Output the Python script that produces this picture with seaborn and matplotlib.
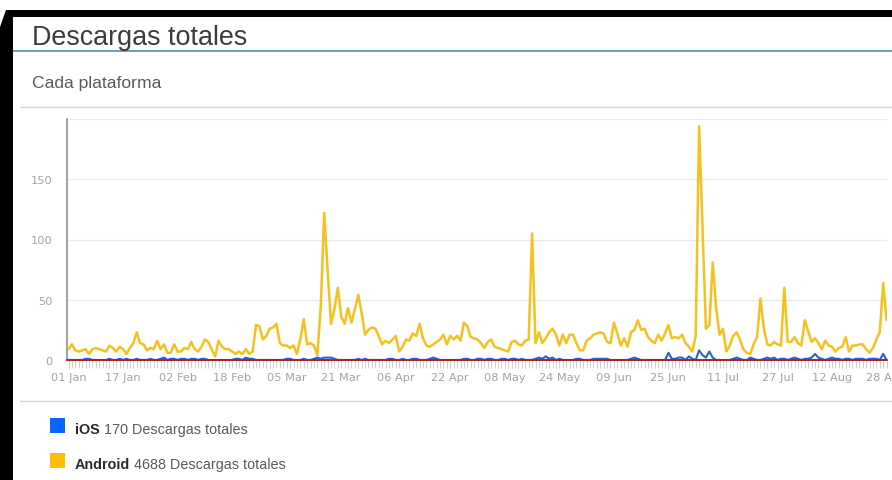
import matplotlib
matplotlib.use("Agg")
import matplotlib.pyplot as plt
import matplotlib.dates as mdates
from matplotlib.patches import Rectangle, Polygon
from matplotlib.lines import Line2D
import seaborn as sns
import pandas as pd
import numpy as np

# ---------------- data ----------------
start_date = "2016-01-01"
platforms = ["iOS", "Android"]
ios_total = 170
android_total = 4688

android = [
    9, 13, 8, 7, 8, 9, 5, 9, 10, 9,
    8, 7, 12, 10, 7, 11, 9, 5, 10, 14,
    23, 14, 13, 8, 10, 9, 16, 9, 13, 6,
    6, 13, 7, 7, 10, 9, 15, 9, 7, 11,
    17, 15, 9, 3, 16, 11, 9, 9, 7, 5,
    7, 5, 9, 5, 7, 29, 28, 17, 20, 26,
    27, 30, 14, 12, 12, 10, 12, 5, 17, 34,
    13, 14, 12, 4, 45, 122, 75, 30, 42, 60,
    36, 30, 43, 31, 42, 54, 39, 21, 25, 27,
    26, 20, 13, 16, 14, 17, 20, 7, 11, 17,
    16, 22, 20, 30, 18, 12, 11, 13, 15, 17,
    21, 13, 20, 17, 20, 16, 31, 28, 19, 18,
    17, 14, 10, 15, 17, 11, 10, 9, 8, 7,
    15, 16, 13, 12, 16, 17, 105, 14, 23, 14,
    18, 23, 26, 21, 12, 21, 14, 21, 21, 14,
    8, 8, 16, 18, 21, 22, 23, 22, 15, 14,
    31, 22, 12, 18, 11, 23, 25, 33, 25, 26,
    19, 16, 14, 21, 16, 22, 29, 18, 19, 18,
    21, 14, 11, 7, 20, 194, 110, 26, 29, 81,
    43, 21, 26, 7, 12, 20, 23, 17, 9, 6,
    5, 13, 19, 51, 26, 13, 12, 15, 13, 12,
    60, 15, 15, 19, 14, 12, 33, 24, 15, 18,
    14, 9, 16, 12, 11, 7, 10, 11, 19, 7,
    12, 12, 13, 13, 9, 6, 10, 17, 23, 64,
    33,
]

ios = [
    0, 0, 0, 0, 0, 1, 1, 0, 0, 0,
    0, 0, 1, 0, 0, 1, 0, 1, 0, 0,
    1, 0, 0, 0, 1, 0, 0, 1, 2, 0,
    1, 1, 0, 1, 1, 0, 1, 1, 0, 1,
    1, 0, 0, 0, 0, 0, 0, 0, 0, 1,
    1, 0, 2, 1, 1, 0, 0, 0, 0, 0,
    0, 0, 0, 0, 1, 1, 0, 0, 0, 1,
    0, 0, 1, 2, 1, 2, 2, 2, 1, 0,
    0, 0, 0, 0, 0, 1, 0, 1, 0, 0,
    0, 0, 0, 0, 1, 1, 0, 0, 1, 0,
    0, 1, 1, 0, 0, 0, 1, 2, 1, 0,
    0, 0, 0, 0, 0, 0, 1, 1, 0, 0,
    1, 1, 0, 1, 1, 0, 0, 1, 1, 0,
    1, 1, 0, 1, 0, 0, 0, 1, 2, 1,
    3, 1, 2, 0, 1, 0, 0, 0, 0, 1,
    1, 0, 0, 0, 1, 1, 1, 1, 1, 0,
    0, 0, 0, 0, 0, 1, 2, 1, 0, 0,
    0, 0, 0, 0, 0, 0, 6, 1, 1, 2,
    2, 0, 3, 1, 0, 8, 4, 2, 7, 2,
    0, 0, 0, 0, 0, 1, 2, 1, 0, 0,
    2, 1, 0, 0, 1, 2, 1, 2, 0, 1,
    1, 0, 1, 2, 1, 0, 1, 1, 2, 5,
    2, 1, 0, 1, 2, 1, 1, 0, 1, 1,
    0, 1, 1, 1, 0, 1, 1, 1, 0, 5,
    0,
]

x_tick_labels = ["01 Jan", "17 Jan", "02 Feb", "18 Feb", "05 Mar", "21 Mar",
                 "06 Apr", "22 Apr", "08 May", "24 May", "09 Jun", "25 Jun",
                 "11 Jul", "27 Jul", "12 Aug", "28 Aug"]
y_ticks = [0, 50, 100, 150, 200]
y_tick_labels = ["0", "50", "100", "150", ""]

# ---------------- frame ----------------
W, H = 892, 481
sns.set_style("white")
plt.rcParams["font.family"] = ["Liberation Sans", "DejaVu Sans"]

fig = plt.figure(figsize=(W / 100, H / 100), dpi=100)
fig.patch.set_facecolor("white")


def fx(x):
    return x / W


def fy(y):
    return 1 - y / H


n = len(android)
dates = pd.date_range(start_date, periods=n, freq="D")
df = pd.DataFrame({
    "fecha": list(dates) + list(dates),
    "descargas": android + ios,
    "plataforma": ["Android"] * n + ["iOS"] * n,
})

ax = fig.add_axes([fx(67), fy(361), fx(887) - fx(67), fy(120) - fy(361)])
sns.lineplot(data=df, x="fecha", y="descargas", hue="plataforma",
             hue_order=["Android", "iOS"],
             palette={"Android": "#f3c21f", "iOS": "#2a5fd6"},
             legend=False, ax=ax, linewidth=1.8, zorder=3)
for ln in ax.lines:
    ln.set_solid_joinstyle("round")
    ln.set_solid_capstyle("round")
ax.lines[1].set_linewidth(1.5)

ax.set_xlim(dates[0] - pd.Timedelta(hours=11), dates[0] + pd.Timedelta(days=240, hours=3))
ax.set_ylim(0, 200)
ax.set_xlabel("")
ax.set_ylabel("")
ax.set_xticks(dates[::16][:len(x_tick_labels)])
ax.set_xticklabels(x_tick_labels)
ax.xaxis.set_minor_locator(mdates.DayLocator())
ax.set_yticks(y_ticks)
ax.set_yticklabels(y_tick_labels)
ax.grid(axis="y", color="#ebebeb", linewidth=1.0)
ax.grid(axis="x", visible=False)
ax.set_axisbelow(True)

for lbl in ax.get_xticklabels() + ax.get_yticklabels():
    lbl.set_fontfamily("DejaVu Sans")
    lbl.set_fontsize(8.2)
    lbl.set_color("#a3a3a3")

ax.tick_params(axis="y", length=0, pad=10.5)
ax.tick_params(axis="x", which="both", length=5.5, width=0.6, color="#c9c9c9",
               pad=3.0, direction="out", bottom=True)
for s in ["top", "right", "bottom"]:
    ax.spines[s].set_visible(False)
ax.spines["left"].set_color("#8f8f8f")
ax.spines["left"].set_linewidth(1.2)
ax.axhline(0, color="#a5282b", linewidth=1.5, zorder=5, clip_on=False)

# border (black) of the screenshot
fig.patches.append(Polygon([(fx(6), fy(11)), (1.0, fy(11)), (1.0, fy(18)),
                            (fx(13), fy(18)), (fx(13), 0), (0, 0), (0, fy(28))],
                           closed=True, transform=fig.transFigure,
                           facecolor="black", edgecolor="none", zorder=10))

# title and subtitle
fig.text(fx(32), fy(45), "Descargas totales", fontsize=19.4, color="#3c3c3c",
         ha="left", va="baseline")
fig.add_artist(Line2D([fx(13), 1.0], [fy(52), fy(52)], color="#4b90bd", linewidth=1.2,
                      transform=fig.transFigure))
fig.text(fx(32), fy(88), "Cada plataforma", fontsize=12.6, color="#595959",
         ha="left", va="baseline")
fig.add_artist(Line2D([fx(20), 1.0], [fy(108), fy(108)], color="#d6d6d6", linewidth=1.0,
                      transform=fig.transFigure))
fig.add_artist(Line2D([fx(20), 1.0], [fy(402), fy(402)], color="#d6d6d6", linewidth=1.0,
                      transform=fig.transFigure))

# legend
legend_colors = {"iOS": "#0a64ff", "Android": "#ffbf00"}
legend_totals = {"iOS": ios_total, "Android": android_total}
legend_rows = {"iOS": 419, "Android": 454}
renderer = fig.canvas.get_renderer()
for name in platforms:
    top = legend_rows[name]
    fig.patches.append(Rectangle((fx(50), fy(top + 15)), 15 / W, 15 / H,
                                 transform=fig.transFigure, facecolor=legend_colors[name],
                                 edgecolor="none"))
    t = fig.text(fx(75), fy(top + 15), name, fontsize=10.4, fontweight="bold",
                 color="#2b2b2b", ha="left", va="baseline")
    bb = t.get_window_extent(renderer=renderer)
    fig.text(bb.x1 / W + 4 / W, fy(top + 15), f"{legend_totals[name]} Descargas totales",
             fontsize=10.4, color="#5a5a5a", ha="left", va="baseline")

fig.savefig("out.png", dpi=100)
